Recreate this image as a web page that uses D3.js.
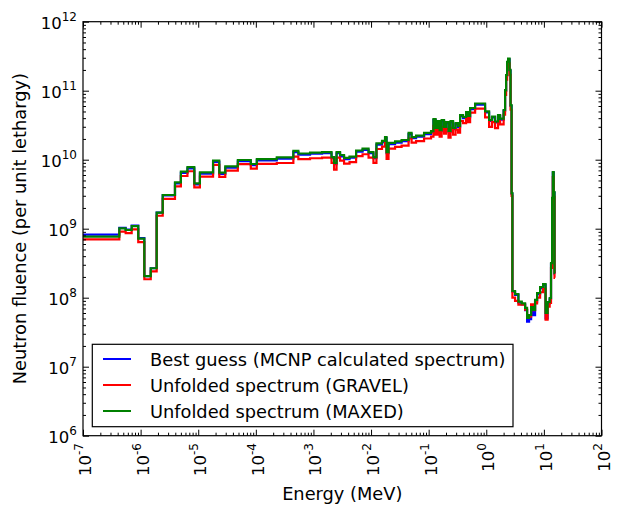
<!DOCTYPE html>
<html><head><meta charset="utf-8">
<script src="https://cdn.jsdelivr.net/npm/d3@7"></script>
<style>
html,body{margin:0;padding:0;background:#fff;}
text{font-family:"DejaVu Sans",sans-serif;fill:#000;}
</style></head>
<body>
<svg id="chart" width="622" height="505"></svg>
<script>
// Bin lower edges (MeV); last entry is the upper edge of the last bin
const energyEdges = [1e-7, 4.27e-7, 5.5e-7, 7.0e-7, 9.1e-7, 1.16e-6, 1.50e-6, 1.9e-6, 2.42e-6, 3.95e-6,
  5.0e-6, 6.5e-6, 8.55e-6, 1.07e-5, 1.81e-5, 2.32e-5, 2.95e-5, 4.87e-5, 8.18e-5, 1.04e-4,
  2.31e-4, 4.48e-4, 5.47e-4, 8.73e-4, 1.41e-3, 2.06e-3, 2.28e-3, 2.52e-3, 2.9e-3, 3.4e-3,
  4.23e-3, 5.5e-3, 7.12e-3, 9.05e-3, 1.10e-2, 1.24e-2, 1.55e-2, 1.75e-2, 1.86e-2, 2.01e-2,
  2.61e-2, 3.39e-2, 4.48e-2, 5.05e-2, 6.04e-2, 8.32e-2, 0.110, 0.121, 0.132, 0.143,
  0.155, 0.168, 0.185, 0.200, 0.221, 0.240, 0.265, 0.293, 0.324, 0.351,
  0.395, 0.446, 0.483, 0.524, 0.640, 0.953, 1.12, 1.26, 1.42, 1.60,
  1.74, 2.0, 2.12, 2.21, 2.30, 2.39, 2.54, 2.64, 2.75, 2.84,
  3.16, 3.61, 4.13, 4.72, 5.11, 5.53, 6.0, 6.5, 7.03, 7.62,
  8.59, 9.68, 10.7, 11.6, 12.6, 13.3, 13.9, 14.3, 14.8, 15.3, 15.6];

const bestGuess = [8.18e8, 1.03e9, 9.7e8, 1.11e9, 7.3e8, 2.06e8, 2.67e8, 1.71e9, 3.05e9, 4.55e9,
  6.45e9, 7.5e9, 4.4e9, 6.3e9, 9.3e9, 6.25e9, 7.7e9, 9.5e9, 8.35e9, 9.8e9,
  1.04e10, 1.29e10, 1.18e10, 1.22e10, 1.24e10, 1.05e10, 8.6e9, 1.24e10, 1.12e10, 1.02e10,
  1.07e10, 1.31e10, 1.39e10, 1.24e10, 1.05e10, 1.65e10, 1.8e10, 2.05e10, 1.24e10, 1.68e10,
  1.77e10, 1.85e10, 2.34e10, 2.05e10, 2.15e10, 2.34e10, 2.5e10, 3.75e10, 2.78e10, 3.5e10,
  2.6e10, 3.62e10, 2.87e10, 3.4e10, 2.52e10, 3.5e10, 2.78e10, 3.28e10, 2.97e10, 4.28e10,
  4.0e10, 4.74e10, 4.15e10, 5.42e10, 6.3e10, 4.83e10, 3.64e10, 4.1e10, 3.46e10, 4.3e10,
  3.82e10, 5.1e10, 9.9e10, 1.64e11, 2.54e11, 2.85e11, 1.95e11, 6.0e10, 3.2e9, 1.22e8,
  1.1e8, 8.5e7, 8.0e7, 6.6e7, 4.5e7, 4.9e7, 6.9e7, 5.6e7, 8.8e7, 1.13e8,
  1.38e8, 1.53e8, 5.0e7, 8.3e7, 9.5e7, 3.1e8, 2.7e9, 6.5e9, 3.3e9, 2.2e8];

const gravel = [7.0e8, 9.1e8, 8.6e8, 9.8e8, 6.4e8, 1.85e8, 2.4e8, 1.54e9, 2.7e9, 4.1e9,
  5.8e9, 6.8e9, 3.96e9, 5.7e9, 8.4e9, 5.65e9, 6.96e9, 8.6e9, 7.4e9, 8.7e9,
  8.96e9, 1.11e10, 1.02e10, 1.05e10, 1.07e10, 9.0e9, 7.2e9, 1.07e10, 9.7e9, 8.8e9,
  9.2e9, 1.13e10, 1.2e10, 1.07e10, 9.0e9, 1.43e10, 1.55e10, 1.77e10, 1.03e10, 1.45e10,
  1.53e10, 1.6e10, 2.03e10, 1.77e10, 1.86e10, 2.03e10, 2.16e10, 3.1e10, 2.3e10, 2.9e10,
  2.15e10, 3.0e10, 2.38e10, 2.8e10, 2.09e10, 2.9e10, 2.3e10, 2.72e10, 2.46e10, 3.64e10,
  3.4e10, 4.0e10, 3.5e10, 4.8e10, 5.5e10, 4.1e10, 3.0e10, 3.5e10, 2.86e10, 3.64e10,
  3.24e10, 4.5e10, 8.7e10, 1.44e11, 2.2e11, 2.5e11, 1.7e11, 5.3e10, 3.0e9, 1.0e8,
  9.0e7, 7.9e7, 7.9e7, 6.7e7, 5.1e7, 5.3e7, 8.0e7, 6.6e7, 8.3e7, 1.0e8,
  1.2e8, 1.35e8, 4.8e7, 7.4e7, 8.4e7, 2.7e8, 2.4e9, 5.6e9, 2.9e9, 1.94e8];

const maxed = [7.66e8, 1.01e9, 9.57e8, 1.09e9, 7.16e8, 2.06e8, 2.67e8, 1.71e9, 3.08e9, 4.7e9,
  6.7e9, 7.8e9, 4.55e9, 6.57e9, 9.7e9, 6.5e9, 8.0e9, 9.9e9, 8.67e9, 1.02e10,
  1.08e10, 1.34e10, 1.23e10, 1.27e10, 1.29e10, 1.09e10, 8.96e9, 1.29e10, 1.17e10, 1.06e10,
  1.11e10, 1.36e10, 1.45e10, 1.29e10, 1.09e10, 1.72e10, 1.87e10, 2.13e10, 1.29e10, 1.75e10,
  1.84e10, 1.93e10, 2.44e10, 2.13e10, 2.24e10, 2.44e10, 2.6e10, 3.89e10, 2.88e10, 3.64e10,
  2.69e10, 3.76e10, 2.98e10, 3.52e10, 2.61e10, 3.64e10, 2.88e10, 3.40e10, 3.08e10, 4.44e10,
  4.16e10, 4.91e10, 4.30e10, 5.61e10, 6.52e10, 5.0e10, 3.76e10, 4.23e10, 3.58e10, 4.44e10,
  3.95e10, 5.25e10, 1.02e11, 1.69e11, 2.61e11, 2.93e11, 2.0e11, 6.2e10, 3.29e9, 1.25e8,
  1.13e8, 8.8e7, 8.3e7, 7.1e7, 5.08e7, 5.61e7, 7.33e7, 6.63e7, 9.27e7, 1.17e8,
  1.43e8, 1.58e8, 6.0e7, 8.67e7, 9.9e7, 3.18e8, 2.79e9, 6.63e9, 3.4e9, 2.28e8];

const seriesNames = ["Best guess (MCNP calculated spectrum)", "Unfolded spectrum (GRAVEL)", "Unfolded spectrum (MAXED)"];
const seriesColors = ["#0000ff", "#ff0000", "#008000"];
const xTickExps = [-7, -6, -5, -4, -3, -2, -1, 0, 1, 2];
const yTickExps = [6, 7, 8, 9, 10, 11, 12];
const xLabel = "Energy (MeV)";
const yLabel = "Neutron fluence (per unit lethargy)";

const svg = d3.select("#chart");
const L = 83, R = 601.5, T = 21.7, B = 435.7;
const x = d3.scaleLog().domain([1e-7, 1e2]).range([L, R]);
const y = d3.scaleLog().domain([1e6, 1e12]).range([B, T]);

function minorTicks(lo, hi) {
  const out = [];
  for (let e = lo; e < hi; e++) for (let m = 2; m <= 9; m++) out.push(m * Math.pow(10, e));
  return out;
}
const xMaj = xTickExps.map(e => Math.pow(10, e));
const yMaj = yTickExps.map(e => Math.pow(10, e));
const xMin = minorTicks(-7, 2);
const yMin = minorTicks(6, 12);

// series
const seriesData = [bestGuess, gravel, maxed];
const line = d3.line().x(d => x(d[0])).y(d => y(d[1])).curve(d3.curveStepAfter);
const plot = svg.append("g");
plot.append("clipPath").attr("id", "clip").append("rect")
  .attr("x", L).attr("y", T).attr("width", R - L).attr("height", B - T);
seriesData.forEach((vals, i) => {
  const n = Math.min(vals.length, energyEdges.length - 1);
  const pts = [];
  for (let k = 0; k < n; k++) pts.push([energyEdges[k], vals[k]]);
  pts.push([energyEdges[n], vals[n - 1]]);
  plot.append("path").attr("d", line(pts)).attr("fill", "none")
    .attr("stroke", seriesColors[i]).attr("stroke-width", 2.2)
    .attr("stroke-linejoin", "miter").attr("clip-path", "url(#clip)");
});

// axes ticks (inside, all four sides)
function tickAxis(axisFn, scale, vals, size, transform) {
  const g = svg.append("g").attr("transform", transform)
    .call(axisFn(scale).tickValues(vals).tickSize(-size).tickFormat(""));
  g.select(".domain").remove();
  g.selectAll(".tick line").attr("stroke", "#000").attr("stroke-width", 1);
  return g;
}
tickAxis(d3.axisBottom, x, xMaj, 6, `translate(0,${B})`);
tickAxis(d3.axisBottom, x, xMin, 3, `translate(0,${B})`);
tickAxis(d3.axisTop, x, xMaj, 6, `translate(0,${T})`);
tickAxis(d3.axisTop, x, xMin, 3, `translate(0,${T})`);
tickAxis(d3.axisLeft, y, yMaj, 6, `translate(${L},0)`);
tickAxis(d3.axisLeft, y, yMin, 3, `translate(${L},0)`);
tickAxis(d3.axisRight, y, yMaj, 6, `translate(${R},0)`);
tickAxis(d3.axisRight, y, yMin, 3, `translate(${R},0)`);

svg.append("rect").attr("x", L).attr("y", T).attr("width", R - L).attr("height", B - T)
  .attr("fill", "none").attr("stroke", "#000").attr("stroke-width", 1.2);

// tick labels
const fsTick = 16.5, fsSup = 12;
yTickExps.forEach(e => {
  const t = svg.append("text").attr("x", 77).attr("y", y(Math.pow(10, e)) + 7)
    .attr("text-anchor", "end").style("font-size", fsTick + "px");
  t.append("tspan").text("10");
  t.append("tspan").attr("dy", -8).style("font-size", fsSup + "px").text(String(e));
});
xTickExps.forEach(e => {
  const px = x(Math.pow(10, e));
  const t = svg.append("text").attr("transform", `translate(${px + 8},${443}) rotate(-90)`)
    .attr("text-anchor", "end").style("font-size", fsTick + "px");
  t.append("tspan").text("10");
  t.append("tspan").attr("dy", -8).style("font-size", fsSup + "px").text(String(e));
});

// axis labels
svg.append("text").attr("x", (L + R) / 2).attr("y", 500).attr("text-anchor", "middle")
  .style("font-size", "17.8px").text(xLabel);
svg.append("text").attr("transform", `translate(26,${(T + B) / 2}) rotate(-90)`)
  .attr("text-anchor", "middle").style("font-size", "17.8px").text(yLabel);

// legend
const lg = svg.append("g");
lg.append("rect").attr("x", 92.3).attr("y", 344.3).attr("width", 420.7).attr("height", 82.4)
  .attr("fill", "#fff").attr("stroke", "#000").attr("stroke-width", 1.2);
seriesNames.forEach((name, i) => {
  const cy = 359 + i * 26;
  lg.append("line").attr("x1", 103).attr("x2", 131).attr("y1", cy).attr("y2", cy)
    .attr("stroke", seriesColors[i]).attr("stroke-width", 2);
  lg.append("text").attr("x", 150).attr("y", cy + 6.5).style("font-size", "17.8px").text(name);
});
</script>
</body></html>
